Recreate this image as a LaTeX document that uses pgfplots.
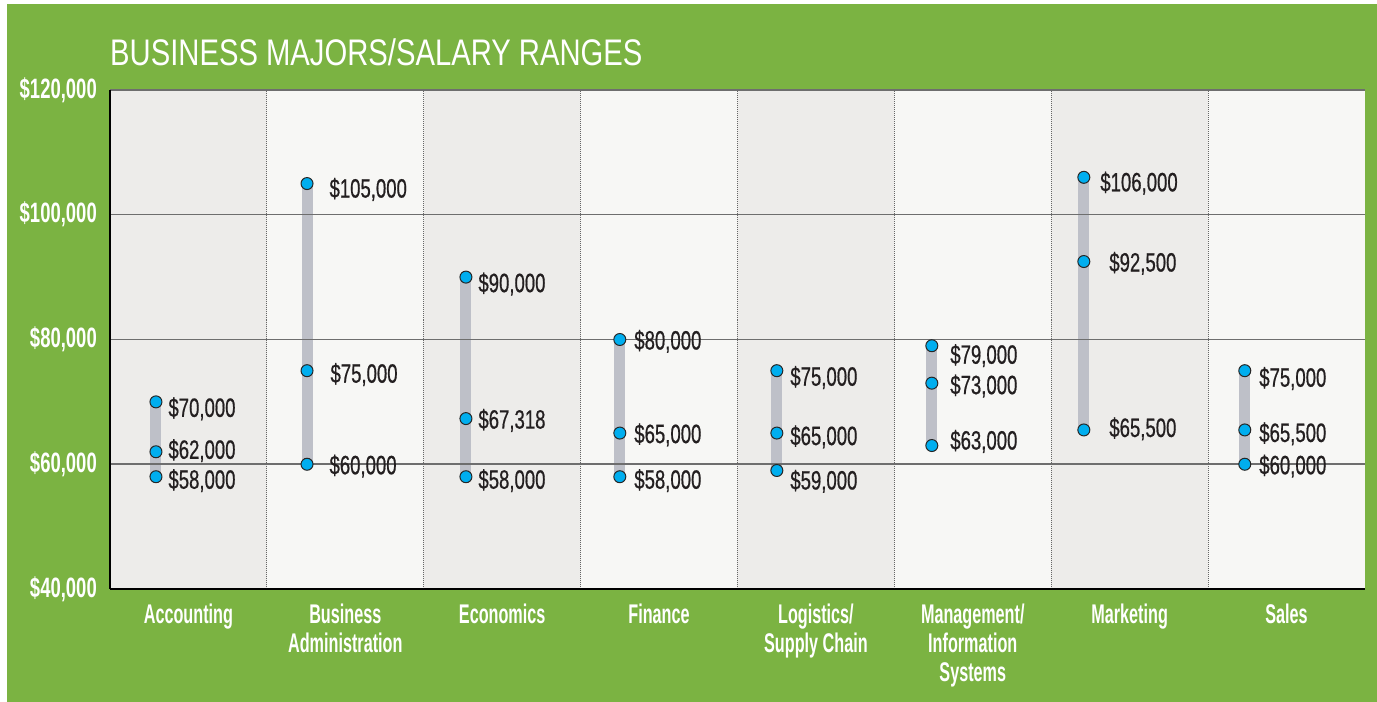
\documentclass[border=0pt]{standalone}
\usepackage{fontspec}
\setmainfont{Liberation Sans}
\newfontfamily\titlefont[FakeStretch=0.79]{Liberation Sans}
\newfontfamily\ylabfont[FakeStretch=0.66]{Liberation Sans}
\newfontfamily\xlabfont[FakeStretch=0.60]{Liberation Sans}
\newfontfamily\valfont[FakeStretch=0.70, FakeBold=0.6]{Liberation Sans}
\usepackage{pgfplots}
\usepackage{pgfplotstable}
\pgfplotsset{compat=1.18}

\definecolor{bggreen}{HTML}{7BB342}
\definecolor{colA}{HTML}{EDECEA}
\definecolor{colB}{HTML}{F7F7F5}
\definecolor{rangegray}{HTML}{BEC0C8}
\definecolor{dotblue}{HTML}{00AEEF}
\definecolor{labtext}{HTML}{231F20}
\definecolor{gridgray}{HTML}{6E6E6E}

% salary points: x position in column, value, label, label offsets (bp)
\pgfplotstableread{
x     y      lab     dx dy
0.793 70000  70,000  12 -5
0.793 62000  62,000  12 3
0.793 58000  58,000  12 -2
1.756 105000 105,000 22 -4
1.756 75000  75,000  23 -2
1.756 60000  60,000  22 0
2.769 90000  90,000  12 -5
2.769 67318  67,318  12 0
2.769 58000  58,000  12 -2
3.750 80000  80,000  14 0
3.750 65000  65,000  14 0
3.750 58000  58,000  14 -2
4.751 75000  75,000  13 -5
4.751 65000  65,000  13 -2
4.751 59000  59,000  13 -9
5.739 79000  79,000  18 -8
5.739 73000  73,000  18 -1
5.739 63000  63,000  18 6
6.708 106000 106,000 16 -4
6.708 92500  92,500  25 0
6.708 65500  65,500  25 3
7.734 75000  75,000  14 -6
7.734 65500  65,500  14 -2
7.734 60000  60,000  14 0
}\salary

\begin{document}
\begin{tikzpicture}
\fill[white] (-110bp,-113bp) rectangle (1267bp,589bp);
\fill[bggreen] (-103bp,-113bp) rectangle (1267bp,585bp);
\node[anchor=base west, inner sep=0pt, text=white,
      font=\titlefont\fontsize{37bp}{40bp}\selectfont] at (0bp,523bp)
      {BUSINESS MAJORS/SALARY RANGES};
\begin{axis}[
    axis on top,
    scale only axis,
    width=1255bp, height=499bp,
    at={(0,0)}, anchor=south west,
    xmin=0.5, xmax=8.5, ymin=40000, ymax=120000,
    axis background/.style={fill=colB},
    axis x line*=bottom, axis y line*=left,
    axis line style={-, black, line width=2.5bp},
    every outer x axis line/.append style={-},
    every outer y axis line/.append style={-},
    major tick length=0pt,
    ytick={40000,60000,80000,100000,120000},
    yticklabels={{\$40,000},{\$60,000},{\$80,000},{\$100,000},{\$120,000}},
    scaled y ticks=false,
    xtick={1,2,3,4,5,6,7,8},
    xticklabels={Accounting, {Business\\Administration}, Economics, Finance,
        {Logistics/\\Supply Chain}, {Management/\\Information\\Systems},
        Marketing, Sales},
    xticklabel style={align=center, anchor=north, inner sep=0pt, yshift=-15bp,
        text=white, font=\xlabfont\bfseries\fontsize{27bp}{29bp}\selectfont},
    yticklabel style={anchor=east, inner sep=0pt, xshift=-13bp,
        text=white, font=\ylabfont\bfseries\fontsize{28bp}{30bp}\selectfont},
]
% alternating column shading
\addplot[ybar interval, fill=colA, draw=none]
    coordinates {(0.5,120000)(1.5,0)(2.5,120000)(3.5,0)(4.5,120000)(5.5,0)(6.5,120000)(7.5,0)(8.5,0)};
% salary ranges
\addplot[rangegray, line width=11bp, line cap=butt, unbounded coords=jump]
    coordinates {
    (0.793,58000)(0.793,70000)(0.793,nan)
    (1.756,60000)(1.756,105000)(1.756,nan)
    (2.769,58000)(2.769,90000)(2.769,nan)
    (3.750,58000)(3.750,80000)(3.750,nan)
    (4.751,59000)(4.751,75000)(4.751,nan)
    (5.739,63000)(5.739,79000)(5.739,nan)
    (6.708,65500)(6.708,106000)(6.708,nan)
    (7.734,60000)(7.734,75000)
    };
% horizontal grid lines
\addplot[gridgray, line width=1.5bp, unbounded coords=jump]
    coordinates {(0.5,60000)(8.5,60000)(8.5,nan)
                 (0.5,80000)(8.5,80000)(8.5,nan)
                 (0.5,100000)(8.5,100000)(8.5,nan)
                 (0.5,120000)(8.5,120000)};
% dotted column separators
\addplot[densely dotted, line width=1bp, black!60, unbounded coords=jump]
    coordinates {(1.5,40000)(1.5,120000)(1.5,nan)
                 (2.5,40000)(2.5,120000)(2.5,nan)
                 (3.5,40000)(3.5,120000)(3.5,nan)
                 (4.5,40000)(4.5,120000)(4.5,nan)
                 (5.5,40000)(5.5,120000)(5.5,nan)
                 (6.5,40000)(6.5,120000)(6.5,nan)
                 (7.5,40000)(7.5,120000)};
% points with value labels
\addplot[only marks, mark=*, mark size=6bp,
    mark options={fill=dotblue, draw=black!85, line width=1bp},
    point meta=explicit symbolic,
    nodes near coords={\$\pgfplotspointmeta},
    visualization depends on={\thisrow{dx}\as\dx},
    visualization depends on={\thisrow{dy}\as\dy},
    every node near coord/.append style={anchor=base west, inner sep=0pt,
        xshift=\dx bp, yshift={\dy bp-10bp}, text=labtext,
        font=\valfont\fontsize{26.5bp}{28bp}\selectfont}]
    table[x=x, y=y, meta=lab] {\salary};
\end{axis}
\end{tikzpicture}
\end{document}
